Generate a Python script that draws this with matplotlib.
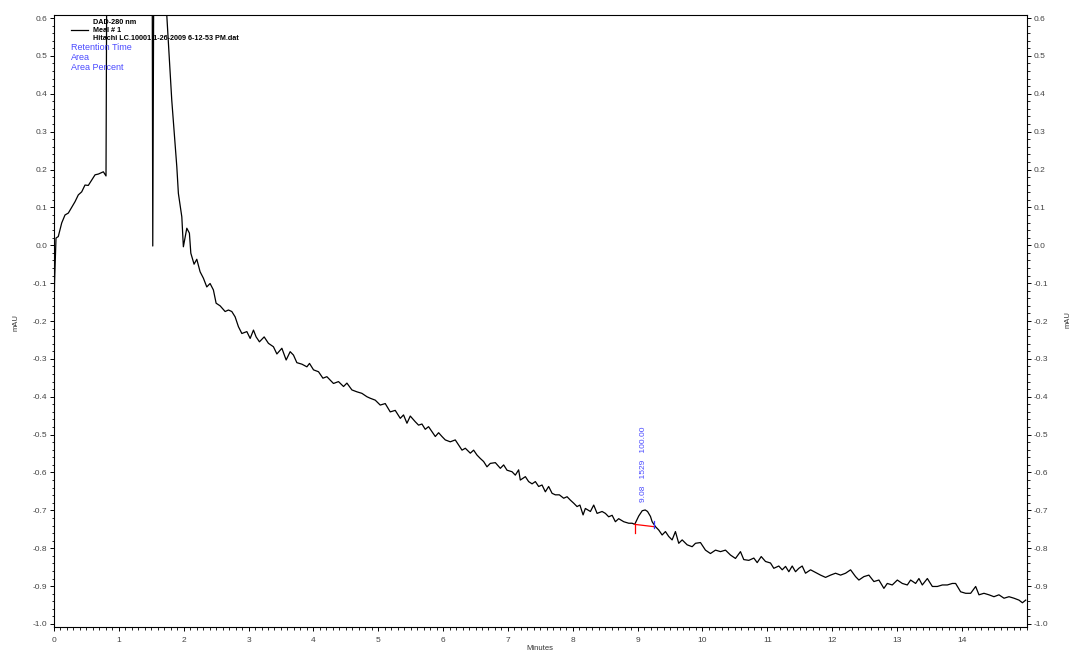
import numpy as np
import matplotlib
matplotlib.use('Agg')
import matplotlib.pyplot as plt
from matplotlib.ticker import MultipleLocator
from matplotlib.lines import Line2D

plt.rcParams['font.family'] = ['Liberation Sans', 'DejaVu Sans']

# chromatogram trace (minutes, mAU); values above 0.6 are off scale
minutes = [
    0.000, 0.008, 0.031, 0.066, 0.119, 0.170, 0.221, 0.273, 0.324, 0.375,
    0.427, 0.478, 0.529, 0.582, 0.633, 0.684, 0.761, 0.802, 0.830, 0.900,
    1.450, 1.505, 1.523, 1.555, 1.620, 1.739, 1.816, 1.894, 1.918, 1.971,
    1.995, 2.048, 2.088, 2.110, 2.160, 2.202, 2.253, 2.304, 2.356, 2.407,
    2.458, 2.500, 2.562, 2.639, 2.690, 2.742, 2.793, 2.844, 2.897, 2.974,
    3.025, 3.076, 3.117, 3.168, 3.241, 3.307, 3.384, 3.437, 3.514, 3.580,
    3.642, 3.693, 3.745, 3.823, 3.900, 3.940, 4.002, 4.079, 4.147, 4.208,
    4.310, 4.387, 4.465, 4.517, 4.594, 4.671, 4.748, 4.826, 4.877, 4.954,
    5.031, 5.108, 5.185, 5.262, 5.340, 5.390, 5.443, 5.494, 5.571, 5.622,
    5.674, 5.725, 5.776, 5.829, 5.880, 5.931, 5.983, 6.034, 6.111, 6.188,
    6.239, 6.292, 6.343, 6.420, 6.471, 6.523, 6.574, 6.625, 6.677, 6.728,
    6.806, 6.883, 6.934, 6.986, 7.063, 7.114, 7.165, 7.191, 7.269, 7.319,
    7.372, 7.423, 7.474, 7.526, 7.577, 7.628, 7.681, 7.731, 7.793, 7.860,
    7.912, 7.963, 8.014, 8.066, 8.110, 8.159, 8.194, 8.272, 8.323, 8.375,
    8.452, 8.503, 8.554, 8.607, 8.657, 8.708, 8.786, 8.863, 8.915, 8.955,
    9.017, 9.071, 9.117, 9.153, 9.198, 9.224, 9.275, 9.326, 9.378, 9.429,
    9.480, 9.532, 9.583, 9.634, 9.687, 9.764, 9.841, 9.892, 9.969, 10.046,
    10.123, 10.201, 10.278, 10.355, 10.432, 10.509, 10.586, 10.637, 10.715, 10.792,
    10.844, 10.906, 10.972, 11.049, 11.100, 11.177, 11.230, 11.281, 11.332, 11.384,
    11.435, 11.486, 11.538, 11.589, 11.667, 11.744, 11.821, 11.898, 11.975, 12.052,
    12.130, 12.207, 12.284, 12.361, 12.412, 12.489, 12.566, 12.644, 12.721, 12.798,
    12.850, 12.927, 13.005, 13.082, 13.159, 13.210, 13.287, 13.338, 13.390, 13.468,
    13.545, 13.622, 13.699, 13.776, 13.853, 13.904, 13.981, 14.059, 14.136, 14.213,
    14.264, 14.341, 14.418, 14.495, 14.572, 14.650, 14.727, 14.804, 14.881, 14.934,
    14.985,
]
mau = [
    -0.190, -0.100, 0.019, 0.023, 0.059, 0.080, 0.085, 0.100, 0.115, 0.133,
    0.141, 0.159, 0.158, 0.172, 0.186, 0.188, 0.194, 0.183, 1.500, 2.000,
    2.000, 1.500, -0.002, 1.500, 2.000, 0.608, 0.383, 0.207, 0.137, 0.075,
    -0.004, 0.045, 0.032, -0.021, -0.050, -0.037, -0.070, -0.087, -0.110, -0.101,
    -0.118, -0.153, -0.160, -0.175, -0.171, -0.175, -0.189, -0.215, -0.233, -0.228,
    -0.246, -0.224, -0.242, -0.255, -0.242, -0.259, -0.268, -0.287, -0.272, -0.303,
    -0.281, -0.290, -0.310, -0.314, -0.321, -0.312, -0.329, -0.334, -0.351, -0.347,
    -0.365, -0.360, -0.373, -0.364, -0.382, -0.387, -0.391, -0.400, -0.404, -0.409,
    -0.422, -0.418, -0.440, -0.436, -0.457, -0.448, -0.470, -0.451, -0.466, -0.475,
    -0.472, -0.486, -0.479, -0.492, -0.505, -0.495, -0.505, -0.514, -0.519, -0.514,
    -0.527, -0.541, -0.536, -0.549, -0.541, -0.554, -0.563, -0.571, -0.585, -0.576,
    -0.574, -0.589, -0.580, -0.594, -0.598, -0.607, -0.593, -0.620, -0.611, -0.624,
    -0.630, -0.624, -0.637, -0.633, -0.651, -0.637, -0.655, -0.659, -0.659, -0.668,
    -0.664, -0.673, -0.681, -0.690, -0.686, -0.712, -0.695, -0.703, -0.686, -0.708,
    -0.703, -0.708, -0.717, -0.713, -0.730, -0.722, -0.730, -0.734, -0.734, -0.737,
    -0.715, -0.701, -0.699, -0.703, -0.716, -0.730, -0.743, -0.752, -0.765, -0.756,
    -0.769, -0.778, -0.756, -0.787, -0.778, -0.791, -0.796, -0.787, -0.785, -0.805,
    -0.814, -0.805, -0.809, -0.805, -0.818, -0.827, -0.809, -0.830, -0.832, -0.826,
    -0.838, -0.822, -0.835, -0.839, -0.853, -0.847, -0.857, -0.848, -0.862, -0.847,
    -0.862, -0.853, -0.847, -0.866, -0.857, -0.864, -0.871, -0.877, -0.871, -0.866,
    -0.871, -0.866, -0.857, -0.875, -0.884, -0.875, -0.871, -0.888, -0.884, -0.906,
    -0.893, -0.897, -0.884, -0.893, -0.897, -0.884, -0.893, -0.880, -0.897, -0.880,
    -0.901, -0.901, -0.897, -0.897, -0.893, -0.893, -0.915, -0.919, -0.919, -0.901,
    -0.923, -0.919, -0.923, -0.928, -0.923, -0.932, -0.928, -0.932, -0.937, -0.944,
    -0.937,
]

# integrated peak
peak_rt = 9.08
peak_area = 1529
peak_pct = 100.00
base_start = (8.955, -0.737)
base_end = (9.248, -0.743)

legend_lines = ['DAD-280 nm', 'Meal # 1', 'Hitachi LC.10001 1-26-2009 6-12-53 PM.dat']
label_keys = ['Retention Time', 'Area', 'Area Percent']

W, H = 1073, 653
fig = plt.figure(figsize=(W / 100, H / 100), dpi=100)
ax = fig.add_axes([54 / W, 26 / H, (1026.7 - 54) / W, (627 - 15) / H])

ax.plot(minutes, mau, color='black', lw=0.9)

# baseline and markers
ax.plot([base_start[0], base_end[0]], [base_start[1], base_end[1]], color='red', lw=0.9)
ax.plot([base_start[0], base_start[0]], [base_start[1], base_start[1] - 0.022], color='red', lw=0.9)
ax.plot([base_end[0], base_end[0]], [base_end[1] + 0.016, base_end[1] - 0.004], color='#3a3aff', lw=0.9)

ax.text(peak_rt + 0.01, -0.678, f'{peak_rt:.2f}   {peak_area}   {peak_pct:.2f}',
        rotation=90, ha='center', va='bottom', color='#4a4aff', fontsize=6)

ax.set_xlim(0, 15.0)
ax.set_ylim(-1.008, 0.608)
ax.xaxis.set_major_locator(MultipleLocator(1))
ax.xaxis.set_minor_locator(MultipleLocator(0.1))
ax.yaxis.set_major_locator(MultipleLocator(0.1))
ax.yaxis.set_minor_locator(MultipleLocator(0.02))
ax.yaxis.set_major_formatter(plt.FuncFormatter(lambda v, p: f'{v:.1f}'))
ax.set_xticks(range(0, 15))

ax.tick_params(axis='both', which='major', length=3, width=0.7, labelsize=6,
               labelcolor='#444444', pad=2)
ax.tick_params(axis='both', which='minor', length=1.8, width=0.6)
ax.tick_params(axis='x', pad=4)
ax.tick_params(axis='y', which='both', right=True, labelright=True)
for s in ax.spines.values():
    s.set_linewidth(0.8)

# axis titles
fig.text(540 / W, 1 - 648 / H, 'Minutes', fontsize=5.5, color='#333333',
         ha='center', va='center')
fig.text(16 / W, 1 - 323 / H, 'mAU', rotation=90, fontsize=5.5, color='#333333',
         ha='center', va='center')
fig.text(1068 / W, 1 - 320 / H, 'mAU', rotation=90, fontsize=5.5, color='#333333',
         ha='center', va='center')

# legend block
ys = [22, 30, 39]
for txt, y in zip(legend_lines, ys):
    fig.text(93 / W, 1 - y / H, txt, fontsize=5.2, fontweight='bold', va='center')
fig.add_artist(Line2D([71 / W, 88 / W], [1 - 30 / H, 1 - 30 / H], color='black', lw=0.9))
for txt, y in zip(label_keys, [48, 58, 68]):
    fig.text(71 / W, 1 - y / H, txt, fontsize=6.5, color='#4a4aff', va='center')

fig.savefig('out.png', dpi=100)
